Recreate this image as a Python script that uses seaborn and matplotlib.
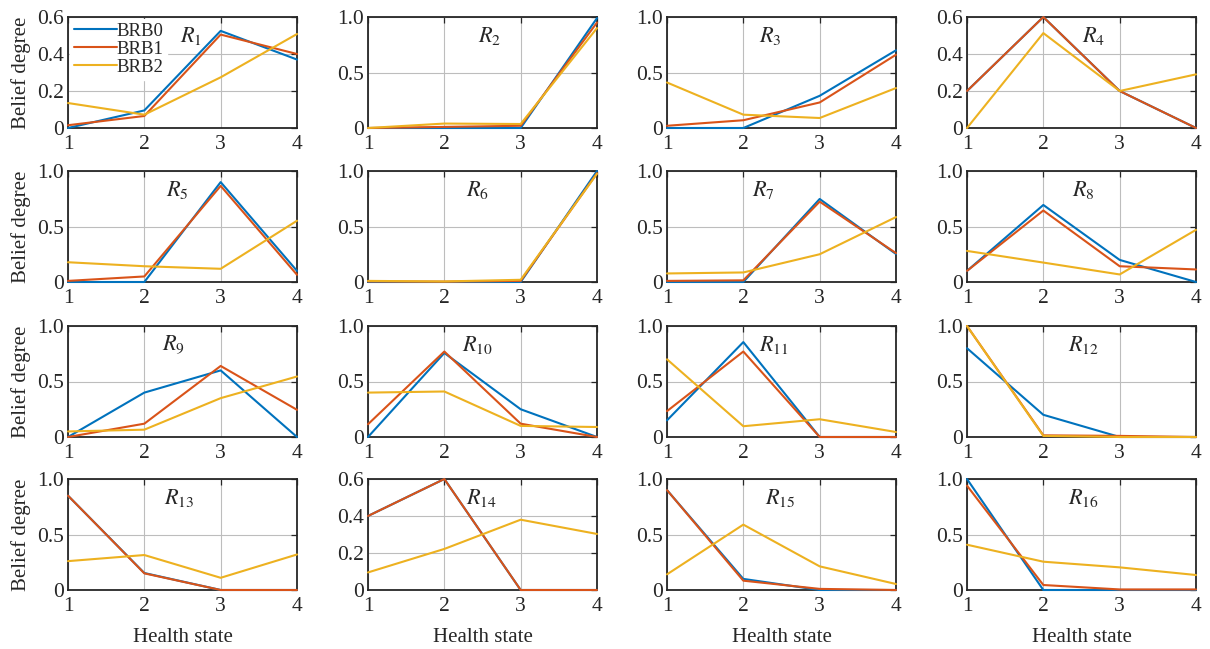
import numpy as np
import pandas as pd
import matplotlib
matplotlib.use("Agg")
import matplotlib.pyplot as plt
import seaborn as sns

states = [1, 2, 3, 4]
series_names = ["BRB0", "BRB1", "BRB2"]

R1 = [[0.00, 0.095, 0.525, 0.37], [0.015, 0.065, 0.505, 0.40], [0.135, 0.072, 0.274, 0.508]]
R2 = [[0.00, 0.00, 0.00, 0.99], [0.00, 0.01, 0.02, 0.95], [0.00, 0.04, 0.036, 0.90]]
R3 = [[0.00, 0.00, 0.29, 0.70], [0.02, 0.07, 0.23, 0.66], [0.41, 0.12, 0.09, 0.36]]
R4 = [[0.20, 0.60, 0.20, 0.00], [0.20, 0.60, 0.20, 0.00], [0.00, 0.513, 0.20, 0.29]]
R5 = [[0.00, 0.00, 0.90, 0.10], [0.01, 0.05, 0.866, 0.065], [0.178, 0.142, 0.119, 0.552]]
R6 = [[0.00, 0.00, 0.00, 1.00], [0.005, 0.003, 0.01, 0.98], [0.01, 0.005, 0.02, 0.975]]
R7 = [[0.00, 0.00, 0.748, 0.252], [0.01, 0.015, 0.724, 0.26], [0.077, 0.086, 0.25, 0.585]]
R8 = [[0.10, 0.694, 0.199, 0.00], [0.10, 0.644, 0.142, 0.113], [0.28, 0.175, 0.068, 0.47]]
R9 = [[0.00, 0.40, 0.60, 0.00], [0.00, 0.12, 0.64, 0.245], [0.05, 0.066, 0.35, 0.545]]
R10 = [[0.00, 0.757, 0.25, 0.00], [0.115, 0.77, 0.12, 0.00], [0.40, 0.41, 0.10, 0.09]]
R11 = [[0.15, 0.855, 0.00, 0.00], [0.233, 0.77, 0.00, 0.00], [0.70, 0.097, 0.16, 0.045]]
R12 = [[0.80, 0.20, 0.00, 0.00], [1.00, 0.015, 0.01, 0.00], [1.00, 0.01, 0.00, 0.00]]
R13 = [[0.85, 0.153, 0.00, 0.00], [0.85, 0.15, 0.00, 0.00], [0.26, 0.315, 0.11, 0.32]]
R14 = [[0.40, 0.60, 0.00, 0.00], [0.40, 0.60, 0.00, 0.00], [0.095, 0.222, 0.38, 0.303]]
R15 = [[0.90, 0.10, 0.00, 0.00], [0.90, 0.084, 0.01, 0.00], [0.141, 0.589, 0.213, 0.054]]
R16 = [[1.00, 0.00, 0.00, 0.00], [0.94, 0.045, 0.005, 0.005], [0.408, 0.255, 0.204, 0.135]]

panels = [R1, R2, R3, R4, R5, R6, R7, R8, R9, R10, R11, R12, R13, R14, R15, R16]
ymax = [0.6, 1, 1, 0.6, 1, 1, 1, 1, 1, 1, 1, 1, 1, 0.6, 1, 1]
label_x = [0.49, 0.48, 0.40, 0.50, 0.43, 0.43, 0.37, 0.46,
           0.41, 0.41, 0.40, 0.44, 0.42, 0.43, 0.43, 0.44]

sns.set_theme(style="white")
plt.rcParams['font.family'] = ['Liberation Serif', 'DejaVu Serif']
plt.rcParams['mathtext.fontset'] = 'stix'

colors = ["#0072BD", "#D95319", "#EDB120"]

W, H = 1210, 649
fig = plt.figure(figsize=(W / 100, H / 100), dpi=100)

col_left = [68, 368, 667, 967]
row_top = [17, 171, 326, 479]
aw, ah = 229, 111

for i, data in enumerate(panels):
    r, c = divmod(i, 4)
    ax = fig.add_axes([col_left[c] / W, 1 - (row_top[r] + ah) / H, aw / W, ah / H])
    frames = []
    for name, vals in zip(series_names, data):
        frames.append(pd.DataFrame({"state": states, "belief": vals, "model": name}))
    df = pd.concat(frames, ignore_index=True)
    sns.lineplot(data=df, x="state", y="belief", hue="model", palette=colors,
                 ax=ax, linewidth=1.5, legend=(i == 0), errorbar=None)
    for ln in ax.get_lines():
        ln.set_zorder(3)
        ln.set_clip_on(False)
    ax.set_xlim(1, 4)
    ax.set_ylim(0, ymax[i])
    ax.set_xticks(states)
    ax.set_xticklabels([str(s) for s in states])
    if ymax[i] == 0.6:
        ax.set_yticks([0, 0.2, 0.4, 0.6])
        ax.set_yticklabels(["0", "0.2", "0.4", "0.6"])
    else:
        ax.set_yticks([0, 0.5, 1.0])
        ax.set_yticklabels(["0", "0.5", "1.0"])
    ax.grid(True, color="#bdbdbd", linewidth=0.8)
    ax.set_axisbelow(True)
    for sp in ax.spines.values():
        sp.set_visible(True)
        sp.set_color("#262626")
        sp.set_linewidth(1.3)
    ax.tick_params(direction="in", length=4, width=0.9, color="#262626",
                   top=True, right=True, labelsize=15.5, labelcolor="#262626")
    ax.tick_params(axis="x", pad=5)
    ax.tick_params(axis="y", pad=3)
    ax.set_xlabel("Health state" if r == 3 else "", fontsize=15, color="#262626", labelpad=9)
    ax.set_ylabel("Belief degree" if c == 0 else "", fontsize=15, color="#262626", labelpad=4)
    ax.text(label_x[i], 0.83, r"$R_{%d}$" % (i + 1), transform=ax.transAxes,
            fontsize=16, ha="left", va="center", color="#262626")
    if i == 0:
        leg = ax.legend(loc="upper left", frameon=True, fontsize=13.5, handlelength=2.3,
                        handletextpad=0.0, borderpad=0.2, labelspacing=0.05,
                        borderaxespad=0.1, fancybox=False)
        leg.get_frame().set_edgecolor("white")
        leg.get_frame().set_facecolor("white")
        leg.get_frame().set_alpha(1.0)

fig.savefig("out.png", dpi=100)
